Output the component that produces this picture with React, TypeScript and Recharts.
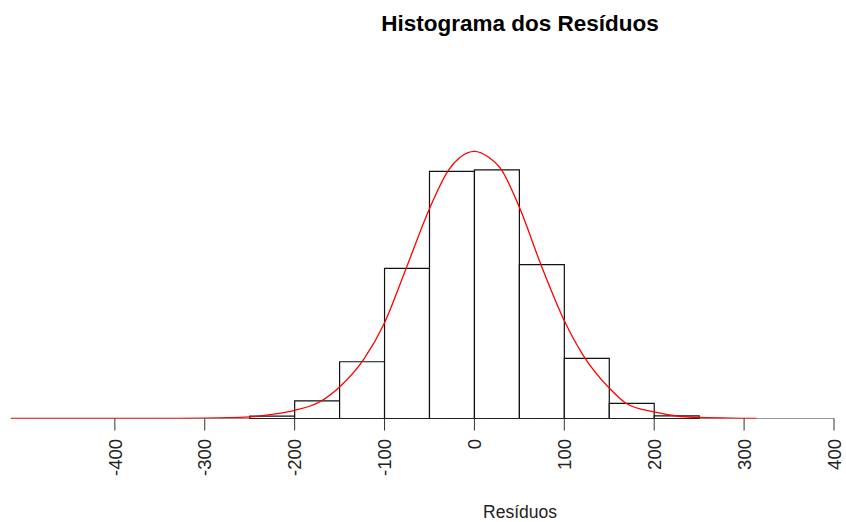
import React from "react"
import { ComposedChart, Line, XAxis, YAxis, ReferenceArea } from "recharts"

// histogram bins (left edge, width 50) and their densities
const binStarts = [-250, -200, -150, -100, -50, 0, 50, 100, 150, 200]
const binWidth = 50
const binDensity = [
  0.000048, 0.00037, 0.001185, 0.003135, 0.005162, 0.005192, 0.003212, 0.001254, 0.000314, 0.000056,
]

// normal curve
const curveX = [
  -516, -350, -300, -250, -225, -200, -173, -150, -123, -100, -76, -50, -29, -16, 0, 16, 29, 50, 74, 100,
  121, 150, 169, 200, 225, 250, 300, 314,
]
const curveY = [
  0, 0.000001, 0.000006, 0.000033, 0.000084, 0.00017, 0.00034, 0.00066, 0.00124, 0.002, 0.003135,
  0.004383, 0.005183, 0.005455, 0.00558, 0.005455, 0.005225, 0.00441, 0.003212, 0.002042, 0.00132,
  0.000635, 0.000314, 0.000136, 0.000052, 0.000021, 0.000004, 0,
]

const xTicks = [-400, -300, -200, -100, 0, 100, 200, 300, 400]

const font = "'Liberation Sans', Arial, sans-serif"

// curve rows plus one row at the end of the axis so the baseline reaches it
const chartData = [
  ...curveX.map((x, i) => ({ x, dens: curveY[i] as number | undefined, base: 0 })),
  { x: xTicks[xTicks.length - 1], dens: undefined, base: 0 },
]

function RotatedTick(props: any) {
  const { x, y, payload } = props
  return (
    <text
      transform={`translate(${x},${y + 8.5}) rotate(-90)`}
      textAnchor="end"
      dy="0.36em"
      fontFamily={font}
      fontSize={18.5}
      fill="#222"
    >
      {payload.value}
    </text>
  )
}

export default function App() {
  return (
    <div style={{ position: "absolute", left: 0, top: 0, width: 846, height: 522, background: "#fff" }}>
      <ComposedChart
        width={846}
        height={522}
        data={chartData}
        margin={{ top: 102.5, right: 12, left: 10.6, bottom: 43.5 }}
      >
        <XAxis
          type="number"
          dataKey="x"
          domain={[-516, 400]}
          ticks={xTicks}
          allowDataOverflow
          height={60}
          tickSize={12}
          tickMargin={0}
          stroke="#333"
          axisLine={false}
          tick={<RotatedTick />}
        />
        <YAxis hide domain={[0, 0.0066]} allowDataOverflow />
        {binStarts.map((b, i) => (
          <ReferenceArea
            key={b}
            x1={b}
            x2={b + binWidth}
            y1={0}
            y2={binDensity[i]}
            fill="#fff"
            fillOpacity={1}
            stroke="#111"
            strokeWidth={1.2}
            ifOverflow="visible"
          />
        ))}
        <Line
          type="linear"
          dataKey="base"
          stroke="#333"
          strokeWidth={1}
          dot={false}
          activeDot={false}
          isAnimationActive={false}
        />
        <Line
          type="monotone"
          dataKey="dens"
          stroke="#ff0000"
          strokeWidth={1.3}
          dot={false}
          activeDot={false}
          isAnimationActive={false}
        />
      </ComposedChart>
      <svg
        width={846}
        height={522}
        style={{ position: "absolute", left: 0, top: 0, pointerEvents: "none" }}
      >
        <text x={520} y={31} textAnchor="middle" fontFamily={font} fontWeight="bold" fontSize={22.5} fill="#000">
          Histograma dos Resíduos
        </text>
        <text x={520} y={518} textAnchor="middle" fontFamily={font} fontSize={17.5} fill="#222">
          Resíduos
        </text>
      </svg>
    </div>
  )
}
